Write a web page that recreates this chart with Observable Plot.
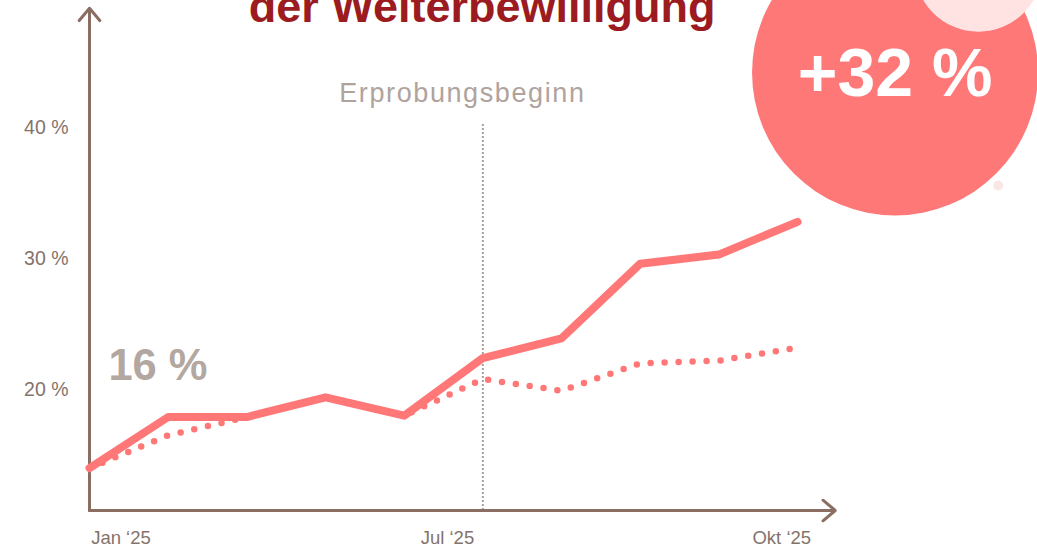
<!DOCTYPE html>
<html>
<head>
<meta charset="utf-8">
<script src="https://cdn.jsdelivr.net/npm/d3@7"></script>
<script src="https://cdn.jsdelivr.net/npm/@observablehq/plot@0.6"></script>
<style>
  html, body { margin: 0; padding: 0; background: #ffffff; }
  #chart svg { display: block; }
</style>
</head>
<body>
<div id="chart"></div>
<script>
// ---- data ----
const periods = [0, 1, 2, 3, 4, 5, 6, 7, 8, 9];
const months = ["Jan", "Feb", "Mär", "Apr", "Mai", "Jun", "Jul", "Aug", "Sep", "Okt"];
const weiterbewilligung = [14.0, 17.9, 17.9, 19.4, 18.0, 22.4, 23.9, 29.6, 30.3, 32.8];
const vergleich = [14.0, 16.5, 17.9, 19.4, 18.0, 20.8, 19.9, 22.0, 22.2, 23.2];
const yTicks = [20, 30, 40];
const xTickPositions = [0.4, 4.55, 8.8];
const xTickLabels = ["Jan ‘25", "Jul ‘25", "Okt ‘25"];
const startPeriod = 5;
const titleText = "der Weiterbewilligung";
const markerText = "Erprobungsbeginn";
const startLabel = "16 %";
const changeLabel = "+32 %";

const rows = periods.map((p, i) => ({ x: p, month: months[i], solid: weiterbewilligung[i], dotted: vergleich[i] }));

// ---- styles ----
const RED = "#ff7777";
const AXIS = "#8a6e62";
const LABEL = "#84736b";
const yBase = 10.763;

const chart = Plot.plot({
  width: 1037,
  height: 549,
  marginLeft: 89,
  marginRight: 4,
  marginTop: 0,
  marginBottom: 39,
  x: { domain: [0, 12] },
  y: { domain: [yBase, 49.695] },
  style: { fontFamily: "'Liberation Sans', Arial, sans-serif", background: "#ffffff" },
  marks: [
    // decorative circles
    Plot.dot([{ x: 10.24, y: 44.2 }], { x: "x", y: "y", r: 143, fill: "#ff7878", stroke: null }),
    Plot.dot([{ x: 11.55, y: 35.57 }], { x: "x", y: "y", r: 5, fill: "#fbe6e6", stroke: null }),
    Plot.dot([{ x: 11.30, y: 52.2 }], { x: "x", y: "y", r: 64, fill: "#ffe3e3", stroke: null }),
    Plot.text([changeLabel], { x: () => 10.24, y: () => 44.1, text: d => d, fill: "#ffffff", fontSize: 68, fontWeight: "bold", lineAnchor: "middle", textAnchor: "middle" }),
    // title (cropped at top, as in the source)
    Plot.text([titleText], { x: () => 4.99, y: () => 48.02, text: d => d, fill: "#9b1b20", fontSize: 45, fontWeight: "bold", lineAnchor: "bottom", textAnchor: "middle" }),
    // start marker
    Plot.ruleX([startPeriod], { x: d => d, y1: yBase, y2: 40.38, stroke: "#aa9f9a", strokeWidth: 2, strokeDasharray: "2 2" }),
    Plot.text([markerText], { x: () => 4.74, y: () => 41.91, text: d => d, fill: "#b0a39d", fontSize: 27, lineAnchor: "bottom", textAnchor: "middle" }),
    // axes with arrow heads
    Plot.arrow([{ x1: 0, y1: yBase, x2: 0, y2: 49.1 }], { x1: "x1", y1: "y1", x2: "x2", y2: "y2", stroke: AXIS, strokeWidth: 3, headLength: 8, headAngle: 80 }),
    Plot.arrow([{ x1: 0, y1: yBase, x2: 9.48, y2: yBase }], { x1: "x1", y1: "y1", x2: "x2", y2: "y2", stroke: AXIS, strokeWidth: 3, headLength: 8, headAngle: 80 }),
    Plot.axisY({ ticks: yTicks, tickFormat: d => `${d} %`, tickSize: 0, tickPadding: 21, fontSize: 19.5, color: LABEL, label: null }),
    Plot.axisX({ ticks: xTickPositions, tickFormat: d => xTickLabels[xTickPositions.indexOf(d)], tickSize: 0, tickPadding: 20, fontSize: 18.5, color: LABEL, label: null }),
    // series
    Plot.line(rows, { x: "x", y: "dotted", stroke: RED, strokeWidth: 6.5, strokeDasharray: "0 14", strokeLinecap: "round" }),
    Plot.line(rows, { x: "x", y: "solid", stroke: RED, strokeWidth: 8, strokeLinejoin: "round" }),
    // start value label
    Plot.text([startLabel], { x: () => 0.24, y: () => 20.76, text: d => d, fill: "#b3a7a1", fontSize: 43.5, fontWeight: "bold", lineAnchor: "bottom", textAnchor: "start" })
  ]
});

d3.select(chart).selectAll("text")
  .filter(function () { return this.textContent === markerText; })
  .attr("letter-spacing", "1.6px");

document.getElementById("chart").appendChild(chart);
</script>
</body>
</html>
